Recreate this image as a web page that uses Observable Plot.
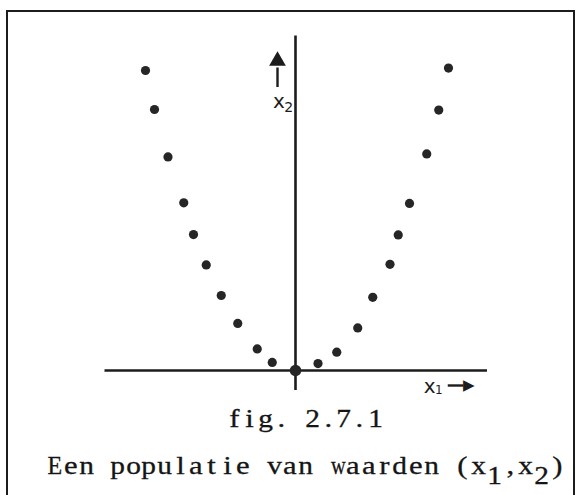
<!DOCTYPE html>
<html>
<head>
<meta charset="utf-8">
<script src="https://cdn.jsdelivr.net/npm/d3@7"></script>
<script src="https://cdn.jsdelivr.net/npm/@observablehq/plot@0.6"></script>
<style>
  body { margin: 0; background: #fff; }
  #fig { position: relative; width: 577px; height: 495px; overflow: hidden; }
  #frame { position: absolute; left: 6px; top: 10px; width: 565px; height: 520px;
           border: 2px solid #1c1c1c; border-bottom: none; }
  #chart { position: absolute; left: 0; top: 0; }
  .cap { position: absolute; font-family: "Liberation Serif", serif;
         font-size: 26px; line-height: 27px; color: #151515; white-space: pre;
         -webkit-text-stroke: 0.3px #151515; }
  /* typewriter grid: every character takes the same cell */
  .cap > span { display: inline-block; width: 15.7px; text-align: center; }
  .cap > span > span { display: inline-block; transform-origin: 50% 50%; }
  .cap > span.sub { position: relative; top: 10px; }
</style>
</head>
<body>
<div id="fig">
  <div id="frame"></div>
  <div id="chart"></div>
  <div class="cap" id="cap1" style="left:226px; top:405px"></div>
  <div class="cap" id="cap2" style="left:47px; top:452px"></div>
</div>
<script>
// Population of (x1, x2) pairs, lying on a parabola through the origin
const x1Values = [-10, -9.4, -8.5, -7.45, -6.8, -5.95, -4.95, -3.85, -2.55, -1.55, 0,
                  1.5, 2.75, 4.15, 5.15, 6.3, 6.85, 7.6, 8.75, 9.55, 10.2];
const x2Values = [100, 87, 71.2, 55.9, 45.3, 35.2, 25, 15.7, 7.2, 2.7, 0,
                  2.3, 6.1, 14.2, 24.4, 35.4, 45.2, 55.7, 72.2, 86.8, 100.8];
const axisNames = ["x", "x"];
const axisIndices = ["1", "2"];
const figNumber = "fig. 2.7.1";
// caption pieces: [text, isSubscript]
const captionParts = [["Een populatie van waarden (x", false], ["1", true], [",x", false], ["2", true], [")", false]];

const points = x1Values.map((v, i) => ({x1: v, x2: x2Values[i]}));
const ink = "#1c1c1c";
const dotInk = "#262626";

// typewriter-style captions below the chart: one fixed cell per character,
// glyphs are widened a little (or narrowed) so they sit well in a cell
const CELL = 15.7;
function typeInto(el, parts) {
  for (const [str, sub] of parts) {
    for (const ch of str) {
      const cell = document.createElement("span");
      if (sub) cell.className = "sub";
      const glyph = document.createElement("span");
      glyph.textContent = ch;
      cell.appendChild(glyph);
      el.appendChild(cell);
      const w = glyph.getBoundingClientRect().width;
      if (w > 0) {
        const target = Math.min(w * 1.18, CELL - 1);
        glyph.style.transform = `scaleX(${target / w})`;
      }
    }
  }
}
typeInto(document.getElementById("cap1"), [[figNumber, false]]);
typeInto(document.getElementById("cap2"), captionParts);

const hand = {fontFamily: "DejaVu Sans", fill: ink};

const chart = Plot.plot({
  width: 577,
  height: 400,
  margin: 0,
  x: {domain: [-10, 10], range: [145, 445], axis: null},
  y: {domain: [0, 100], range: [370, 70], axis: null},
  marks: [
    // hand-drawn axes crossing at the origin
    Plot.ruleY([0], {x1: -12.7, x2: 12.8, stroke: ink, strokeWidth: 2.6}),
    Plot.ruleX([0], {y1: -6.7, y2: 111.5, stroke: ink, strokeWidth: 2.6}),
    // population points
    Plot.dot(points.filter(d => d.x1 !== 0), {x: "x1", y: "x2", r: 4.6, fill: dotInk}),
    Plot.dot(points.filter(d => d.x1 === 0), {x: "x1", y: "x2", r: 5.8, fill: dotInk}),
    // x2 label with upward arrow
    Plot.text([axisNames[1]], {x: -1.1, y: 89.6, text: d => d, fontSize: 20, ...hand}),
    Plot.text([axisIndices[1]], {x: -0.45, y: 87.8, text: d => d, fontSize: 14, ...hand}),
    Plot.link([0], {x1: -1.2, x2: -1.2, y1: 94.5, y2: 101, stroke: ink, strokeWidth: 2.4}),
    Plot.dot([0], {x: -1.2, y: 103.2, symbol: "triangle", r: 6.2, fill: ink}),
    // x1 label with rightward arrow
    Plot.text([axisNames[0]], {x: 8.95, y: -5.2, text: d => d, fontSize: 20, ...hand}),
    Plot.text([axisIndices[0]], {x: 9.55, y: -6.6, text: d => d, fontSize: 12, ...hand}),
    Plot.link([0], {x1: 10.15, x2: 11.2, y1: -5.0, y2: -5.0, stroke: ink, strokeWidth: 2.4}),
    Plot.text(["\u25B6"], {x: 11.55, y: -5.0, text: d => d, fontSize: 15, ...hand})
  ]
});
document.getElementById("chart").appendChild(chart);
</script>
</body>
</html>
